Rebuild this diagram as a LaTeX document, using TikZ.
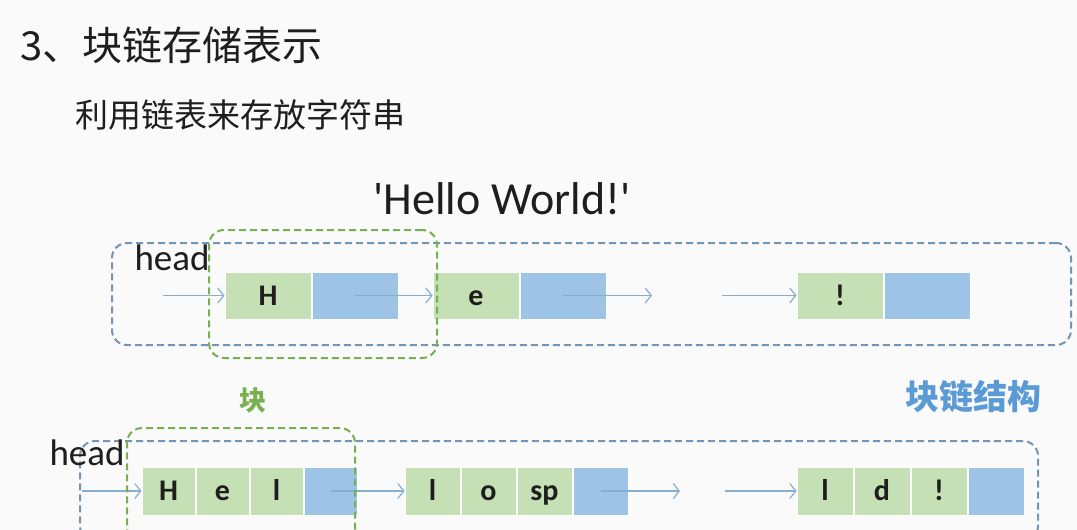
\documentclass[tikz,border=0pt]{standalone}
\usepackage{fontspec}
\setmainfont{Carlito}
\newfontfamily\cjk{Noto Sans CJK SC}
\usepackage{xcolor}
\usetikzlibrary{arrows.meta, positioning}

\definecolor{pagebg}{HTML}{FAFAFA}
\definecolor{textdark}{HTML}{1E1E1E}
\definecolor{cellgreen}{HTML}{C5E0B4}
\definecolor{cellblue}{HTML}{9DC3E6}
\definecolor{chainblue}{HTML}{7196B8}
\definecolor{blockgreen}{HTML}{78B04F}
\definecolor{linkblue}{HTML}{86AECF}
\definecolor{labelblue}{HTML}{5B9BD5}

\begin{document}
\begin{tikzpicture}[x=1pt, y=-1pt,
    cell/.style={rectangle, fill=cellgreen, draw=white, line width=1pt, minimum width=86pt, minimum height=47pt, inner sep=0pt, text height=19pt, text depth=0pt, text=textdark, font=\fontsize{30}{30}\selectfont\bfseries},
    ptr/.style={cell, fill=cellblue},
    smallcell/.style={cell, minimum width=#1, minimum height=48pt},
    smallcell/.default=54pt,
    smallptr/.style={smallcell=#1, fill=cellblue},
    smallptr/.default=54pt,
    chainbox/.style={rectangle, rounded corners=15pt, draw=chainblue, line width=2pt, dash pattern=on 7pt off 4pt},
    blockbox/.style={chainbox, draw=blockgreen},
    link/.style={-{Straight Barb[length=6pt, width=15pt]}, draw=linkblue, line width=1.2pt},
    headlabel/.style={anchor=base west, text=textdark, font=\fontsize{37}{37}\selectfont}
]
\path[use as bounding box, fill=pagebg] (0,0) rectangle (1077,530);
\clip (0,0) rectangle (1077,530);

% Headings
\node[anchor=west, text=textdark, font=\cjk\fontsize{40}{40}\selectfont] (title) at (17,45) {3、块链存储表示};
\node[anchor=west, text=textdark, font=\cjk\fontsize{33}{33}\selectfont] (subtitle) at (72,115) {利用链表来存放字符串};
\node[anchor=base, text=textdark, font=\fontsize{46}{46}\selectfont] (word) at (502,214) {\textquotesingle Hello World!\textquotesingle};

% One character per node
\node[cell] (h) at (268,295.5) {H};
\node[ptr, right=0pt of h] (hptr) {};
\node[cell] (e) at (476,295.5) {e};
\node[ptr, right=0pt of e] (eptr) {};
\node[cell] (excl) at (840,295.5) {!};
\node[ptr, right=0pt of excl] (exclptr) {};

% Three characters per node
\node[smallcell=53pt] (bh) at (168.5,491) {H};
\node[smallcell=53pt, right=0pt of bh] (be) {e};
\node[smallcell=53pt, right=0pt of be] (bl) {l};
\node[smallptr=53pt, right=0pt of bl] (bptra) {};
\node[smallcell=55pt] (cl) at (432.5,491) {l};
\node[smallcell=55pt, right=0pt of cl] (co) {o};
\node[smallcell=55pt, right=0pt of co] (csp) {sp};
\node[smallptr=55pt, right=0pt of csp] (bptrb) {};
\node[smallcell=56pt] (dl) at (825,491) {l};
\node[smallcell=56pt, right=0pt of dl] (dd) {d};
\node[smallcell=56pt, right=0pt of dd] (dexcl) {!};
\node[smallptr=56pt, right=0pt of dexcl] (bptrc) {};

% Arrows
\coordinate (topin) at (163,295.5);
\coordinate (topgapa) at (652,295.5);
\coordinate (topgapb) at (722,295.5);
\draw[link] (topin) -- (h.west);
\draw[link] (hptr.center) -- (e.west);
\draw[link] (eptr.center) -- (topgapa);
\draw[link] (topgapb) -- (excl.west);

\coordinate (botin) at (82,491);
\coordinate (botgapa) at (680,491);
\coordinate (botgapb) at (725,491);
\draw[link] (botin) -- (bh.west);
\draw[link] (bptra.center) -- (cl.west);
\draw[link] (bptrb.center) -- (botgapa);
\draw[link] (botgapb) -- (dl.west);

% Dashed frames
\node[chainbox, minimum width=959pt, minimum height=102pt] (topchain) at (591.5,294) {};
\node[blockbox, minimum width=228pt, minimum height=128pt] (topblock) at (323,294) {};
\node[chainbox, minimum width=958pt, minimum height=100pt] (botchain) at (559,491) {};
\node[blockbox, minimum width=228pt, minimum height=126pt] (botblock) at (241,491) {};

% Labels
\node[headlabel] (tophead) at (131,270) {head};
\node[headlabel] (bothead) at (46,465) {head};
\node[text=blockgreen, font=\cjk\bfseries\fontsize{27}{27}\selectfont] (blocklabel) at (253,400) {块};
\node[text=labelblue, font=\cjk\bfseries\fontsize{34}{34}\selectfont] (chainlabel) at (973,397) {块链结构};

\end{tikzpicture}
\end{document}
